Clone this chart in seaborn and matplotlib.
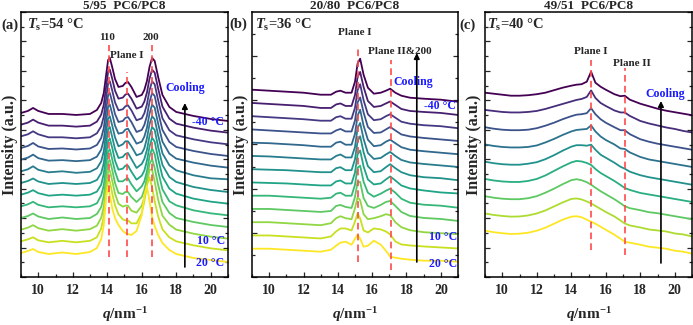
import numpy as np
import pandas as pd
import matplotlib
matplotlib.use("Agg")
import matplotlib.pyplot as plt
from matplotlib.ticker import MultipleLocator
import seaborn as sns

# ---- data ----
# curves are listed bottom (first, warmest) to top (last, coldest);
# values are heights above each curve's own start at q = 9
q_a = [9.0, 9.4, 9.7, 10.0, 10.6, 11.4, 12.2, 13.0,
       13.4, 13.65, 13.8, 13.95, 14.05, 14.15, 14.3, 14.45, 14.65, 14.9, 15.05, 15.2, 15.4,
       15.7, 16.0, 16.15, 16.3, 16.45, 16.6, 16.75, 16.95, 17.2, 17.6, 18.0, 19.0, 20.0, 21.0]
temps_a = [20, 15, 10, 5, 0, -5, -10, -15, -20, -25, -30, -35, -40]
int_a = [
    [0, 2, 4, 1, -1, 0.5, -1, 1,
     5, 14, 28, 58, 66, 58, 44, 35, 28, 22, 20, 19, 18, 22, 38, 58, 67, 52, 36, 27, 18, 10, 3, -1, -5, -7, -9],
    [0, 2, 4, 1, -1, 0.5, -1, 0.5,
     4, 13, 25, 50, 61, 60, 47, 36, 27, 22, 21, 21, 18, 18, 28, 40, 56, 64, 54, 40, 25, 12, 4, 0, -4, -7, -9],
    [0, 2, 4.5, 1.5, -1, 0.5, -1, 0.5,
     4, 12, 23, 46, 58, 59, 48, 36, 26, 23, 24, 24, 19, 17, 24, 32, 46, 60, 60, 48, 30, 14, 5, 0, -4, -7, -9],
    [0, 2, 4.5, 1.5, -1, 0.5, -1, 0,
     4, 11, 22, 44, 56, 58, 47, 35, 25, 24, 26, 26, 21, 16, 21, 28, 40, 54, 59, 50, 33, 16, 5, 0, -4, -7, -9],
    [0, 2, 4.5, 1.5, -1, 0, -1, 0,
     3, 11, 21, 43, 55, 57, 46, 35, 25, 25, 27, 28, 22, 15, 20, 25, 35, 50, 58, 52, 35, 17, 5, 1, -4, -7, -9],
    [0, 2, 4.5, 1.5, -1, 0, -1, 0,
     3, 10, 21, 42, 54, 56, 46, 34, 25, 26, 29, 29, 23, 15, 19, 24, 34, 48, 57, 53, 36, 18, 6, 1, -4, -7, -9],
    [0, 2, 4.5, 1.5, -1, 0, -1, 0,
     3, 10, 20, 41, 54, 56, 45, 34, 25, 26, 29, 30, 24, 15, 19, 24, 33, 47, 56, 53, 36, 18, 6, 1, -4, -7, -9],
    [0, 2, 5, 1.5, -1, 0, -1.5, -0.5,
     3, 10, 20, 41, 53, 55, 45, 34, 25, 27, 30, 30, 25, 16, 18, 23, 33, 47, 55, 52, 36, 18, 6, 1, -4, -7, -8],
    [0, 2, 5, 1.5, -1, -0.5, -1.5, -0.5,
     3, 10, 20, 40, 53, 55, 45, 34, 26, 27, 30, 31, 25, 16, 18, 23, 32, 46, 55, 52, 36, 18, 6, 1, -3, -6, -8],
    [0, 2, 5, 1.5, -1, -0.5, -1.5, -0.5,
     3, 10, 20, 40, 53, 55, 45, 34, 26, 27, 30, 31, 26, 16, 18, 23, 32, 46, 55, 52, 36, 18, 6, 1, -3, -6, -8],
    [0, 2, 5, 2, -1, -1, -2, -1,
     3, 10, 20, 40, 53, 55, 45, 34, 26, 27, 30, 31, 26, 16, 18, 23, 32, 46, 55, 52, 36, 18, 6, 1, -3, -6, -8],
    [0, 2, 5, 2, -1, -1, -2, -1,
     3, 10, 20, 40, 53, 55, 45, 34, 26, 27, 30, 31, 26, 16, 18, 23, 32, 46, 55, 52, 36, 18, 6, 1, -3, -6, -8],
    [0, 2, 5, 2, -1, -1, -2, -1,
     3, 10, 20, 40, 53, 55, 45, 34, 26, 27, 30, 31, 26, 16, 18, 23, 32, 46, 55, 52, 36, 18, 6, 1, -3, -6, -8],
]

q_b = [9.0, 10.0, 11.0, 12.0, 13.0, 13.6, 13.9, 14.15, 14.45, 14.8, 15.0, 15.15, 15.3, 15.5, 15.75,
       16.1, 16.5, 16.8, 17.05, 17.35, 17.7, 18.2, 19.0, 20.0, 21.0]
temps_b = [20, 15, 10, 5, 0, -5, -10, -15, -20, -25, -30, -35, -40]
int_b = [
    [0, 0, -1, -2, -3, -1, 3, 6, 7, 4, 10, 14, 10, 2, 3, 8, 4, -2, -8, -9, -10, -11, -12, -12, -13],
    [0, 0, -1, -2, -3, -1, 4, 7, 7, 5, 14, 22, 17, 5, 3, 7, 6, 4, 1, -6, -9, -10, -11, -12, -13],
    [0, 0, -1, -2, -3, -1, 4, 6, 4, 3, 14, 25, 22, 8, 3, 4, 6, 8, 7, 0, -5, -8, -10, -11, -12],
    [0, 0, -1, -2, -3, -2, 3, 4, 2, 1, 12, 27, 27, 11, 3, 1, 4, 7, 8, 3, -3, -7, -9, -10, -12],
    [0, 0, -1, -2, -3, -2, 2, 3, 0, 0, 11, 28, 30, 14, 3, -1, 2, 5, 7, 3, -3, -7, -9, -10, -12],
    [0, -0.5, -1, -2, -3, -3, 1, 2, -1, -1, 10, 28, 32, 16, 3, -2, -1, 3, 6, 2, -3, -6, -8, -10, -11],
    [0, -0.5, -1, -2, -3, -3, 1, 2, -1, -1, 10, 28, 33, 17, 3, -3, -2, 2, 5, 1, -3, -6, -8, -9, -11],
    [0, -0.5, -1.5, -2.5, -3.5, -3.5, 0, 1.5, -1.5, -1.5, 9, 28, 33, 17, 3, -3, -2, 1.5, 4, 0, -4, -6.5, -8, -9.5, -11],
    [0, -0.5, -1.5, -2.5, -4, -4, 0, 1, -2, -2, 9, 27, 33, 17, 3, -3.5, -2.5, 1, 3, -0.5, -4.5, -7, -8.5, -10, -11.5],
    [0, -1, -2, -3, -4, -4, -1, 0.5, -2, -2, 9, 27, 32, 17, 2.5, -3.5, -3, 0, 2.5, -1, -5, -7, -8.5, -10, -11.5],
    [0, -1, -2, -3, -4.5, -4.5, -1, 0, -2.5, -2.5, 8.5, 26, 32, 16, 2, -4, -3, 0, 2, -1.5, -5.5, -7.5, -9, -10, -12],
    [0, -1, -2, -3, -5, -5, -1.5, -0.5, -3, -3, 8, 26, 31, 16, 2, -4, -3, -0.5, 1.5, -2, -6, -8, -9, -10, -12],
    [0, -1, -2, -3, -5, -5, -2, -1, -3, -3, 8, 26, 31, 15, 2, -4, -3, -1, 1, -3, -6, -8, -9, -10, -12],
]

q_c = [9.0, 9.5, 10.0, 10.5, 11.0, 11.5, 12.0, 12.5, 13.0, 13.5, 14.0, 14.3, 14.6, 14.9, 15.15,
       15.4, 15.7, 16.0, 16.5, 16.85, 17.1, 17.4, 18.0, 18.5, 19.0, 19.5, 20.0, 20.5, 21.0]
names_c = ["c1", "c2", "c3", "c4", "c5", "c6", "c7", "c8", "c9"]
int_c = [
    [0, -1.5, -2.5, -3.3, -3, -2, 0, 3, 7, 11, 14, 14.5, 13.5, 11, 9, 7, 4, 1, -4, -8, -11, -12, -14, -16, -17, -18, -20, -21, -23],
    [0, -1.5, -2.5, -3.2, -3, -2, 0, 3, 7, 11, 14.5, 15, 14, 12, 10, 7.5, 4.5, 1.5, -3, -7, -10, -12, -14, -16, -17, -18, -20, -21, -23],
    [0, -1.5, -2.5, -3, -3, -2, 0, 3.5, 7.5, 12, 16, 17, 16, 14, 11.5, 8.5, 5, 2, -3, -7, -10, -12, -14, -16, -17, -18.5, -20, -21.5, -23],
    [0, -1.5, -2.5, -3, -3, -2, 0, 3.5, 8, 12.5, 16.5, 18, 17.5, 16, 14, 10, 6, 3, -2, -6, -9, -11, -14, -15.5, -17, -18.5, -20, -21.5, -23],
    [0, -1.5, -2.5, -3, -3, -2, -0.5, 2.5, 6.5, 11, 15, 16.5, 16.5, 16, 17, 12, 7, 4, -1, -5, -7, -10, -13.5, -15.5, -17, -18.5, -20, -21.5, -23],
    [0, -1.5, -2.5, -3, -3, -2.5, -1, 2, 5.5, 9.5, 13, 14.5, 15, 15.5, 19, 13, 8, 4.5, 0, -4, -4.5, -8, -12.5, -15, -16.5, -18, -19.5, -21, -22.5],
    [0, -1.5, -2.5, -3, -3, -2.5, -1, 1.5, 4.5, 8, 11, 12.5, 13, 14, 19, 13, 8, 4.5, 0, -3, -3, -7, -12, -14.5, -16.5, -18, -19.5, -21, -22.5],
    [0, -1, -2, -2.5, -2.5, -2, -1, 1, 3.5, 6, 8.5, 10, 11, 13, 19.5, 12, 7, 4, -0.5, -2.5, -2.5, -6, -11, -13.5, -15.5, -17.5, -19, -21, -22.5],
    [0, -1, -2, -3, -3, -2.5, -1.5, 0, 2.5, 5, 7, 8, 8.5, 11, 21, 10, 6, 3, -1.5, -3.5, -3, -7, -11, -13.5, -16, -18, -19.5, -21, -22.5],
]

peaks_a = [14.1, 15.15, 16.6]
peaks_b = [15.19, 17.08]
peaks_c = [15.15, 17.12]

# ---- style ----
sns.set_style("ticks")
plt.rcParams["font.family"] = ["Liberation Serif", "DejaVu Serif"]
plt.rcParams["font.weight"] = "bold"
plt.rcParams["axes.labelweight"] = "bold"
plt.rcParams["mathtext.fontset"] = "custom"
plt.rcParams["mathtext.rm"] = "Liberation Serif:bold"
plt.rcParams["mathtext.it"] = "Liberation Serif:italic:bold"
plt.rcParams["mathtext.bf"] = "Liberation Serif:bold"

BLUE = "#1a1aff"
RED = "#ff4a4a"


def stacked(q, rows, names, base, step):
    frames = []
    for i, (row, name) in enumerate(zip(rows, names)):
        frames.append(pd.DataFrame({"q": q, "I": np.array(row, float) + base + i * step,
                                    "curve": name}))
    return pd.concat(frames, ignore_index=True)


def draw_panel(ax, q, rows, names, base, step, ytick):
    n = len(rows)
    cmap = plt.get_cmap("viridis")
    pal = {name: cmap(1 - i / (n - 1)) for i, name in enumerate(names)}
    df = stacked(q, rows, names, base, step)
    sns.lineplot(data=df, x="q", y="I", hue="curve", hue_order=names[::-1], palette=pal,
                 estimator=None, sort=False, legend=False, linewidth=1.3, ax=ax)
    ax.set_xlim(9, 21)
    ax.set_ylim(0, 265)
    ax.xaxis.set_major_locator(MultipleLocator(2))
    ax.xaxis.set_minor_locator(MultipleLocator(1))
    ax.yaxis.set_major_locator(MultipleLocator(ytick))
    ax.yaxis.set_minor_locator(MultipleLocator(ytick / 2))
    ax.tick_params(which="both", direction="in", right=True, top=False, labelleft=False,
                   width=0.9, labelsize=10, pad=5)
    ax.tick_params(which="major", length=3.5)
    ax.tick_params(which="minor", length=2)
    for s in ax.spines.values():
        s.set_linewidth(1.1)
        s.set_color("black")
    ax.set_xlabel(r"$q$/nm$^{-1}$", fontsize=11, labelpad=6)
    ax.set_ylabel("Intensity (a.u.)", fontsize=11.5, labelpad=2)


def vlines(ax, qs, lows, highs):
    for qv, lo, hi in zip(qs, lows, highs):
        ax.plot([qv, qv], [lo, hi], color=RED, lw=1.2, dashes=(4, 2.5), zorder=5)


def arrow(ax, qv, lo, hi):
    ax.annotate("", xy=(qv, hi), xytext=(qv, lo),
                arrowprops=dict(arrowstyle="-|>", color="black", lw=1.2, mutation_scale=8,
                                shrinkA=0, shrinkB=0), zorder=6)


fig = plt.figure(figsize=(6.93, 3.25), dpi=100)
ax_a = fig.add_axes([21 / 693, 48 / 325, 207 / 693, 265 / 325])
ax_b = fig.add_axes([252 / 693, 48 / 325, 206 / 693, 265 / 325])
ax_c = fig.add_axes([485 / 693, 48 / 325, 207 / 693, 265 / 325])

# panel (a)
draw_panel(ax_a, q_a, int_a, [f"{t} °C" for t in temps_a], 24, 11.67, 29.44)
vlines(ax_a, peaks_a, [20, 20, 20], [232, 205, 232])
arrow(ax_a, 18.5, 10, 174)
ax_a.set_title("5/95  PC6/PC8", fontsize=9.5, fontweight="bold", pad=0.5)
ax_a.text(0.03, 0.95, r"$T_{\mathrm{s}}$=54 °C", transform=ax_a.transAxes, fontsize=10.5,
          ha="left", va="center")
ax_a.text(14.0, 240, "110", fontsize=8, ha="center", va="center")
ax_a.text(16.55, 240, "200", fontsize=8, ha="center", va="center")
ax_a.text(15.15, 221, "Plane I", fontsize=8, ha="center", va="center")
ax_a.text(18.5, 189, "Cooling", fontsize=8.5, color=BLUE, ha="center", va="center")
ax_a.text(19.85, 155, "-40 °C", fontsize=8.5, color=BLUE, ha="center", va="center")
ax_a.text(20.0, 36, "10 °C", fontsize=8.5, color=BLUE, ha="center", va="center")
ax_a.text(19.95, 14, "20 °C", fontsize=8.5, color=BLUE, ha="center", va="center")
fig.text(10 / 693, 1 - 25 / 325, "(a)", fontsize=10.5, ha="center", va="center")

# panel (b)
draw_panel(ax_b, q_b, int_b, [f"{t} °C" for t in temps_b], 28.3, 13.25, 44.17)
vlines(ax_b, peaks_b, [15, 7], [230, 217])
arrow(ax_b, 18.6, 15, 224)
ax_b.set_title("20/80  PC6/PC8", fontsize=9.5, fontweight="bold", pad=0.5)
ax_b.text(0.015, 0.95, r"$T_{\mathrm{s}}$=36 °C", transform=ax_b.transAxes, fontsize=10.5,
          ha="left", va="center")
ax_b.text(15.0, 244.5, "Plane I", fontsize=8, ha="center", va="center")
ax_b.text(17.62, 226, "Plane II&200", fontsize=8, ha="center", va="center")
ax_b.text(18.38, 195, "Cooling", fontsize=8.5, color=BLUE, ha="center", va="center")
ax_b.text(19.95, 171, "-40 °C", fontsize=8.5, color=BLUE, ha="center", va="center")
ax_b.text(20.12, 40, "10 °C", fontsize=8.5, color=BLUE, ha="center", va="center")
ax_b.text(20.12, 13, "20 °C", fontsize=8.5, color=BLUE, ha="center", va="center")
fig.text(238 / 693, 1 - 24 / 325, "(b)", fontsize=10.5, ha="center", va="center")

# panel (c)
draw_panel(ax_c, q_c, int_c, names_c, 46.3, 17.25, 29.44)
vlines(ax_c, peaks_c, [27, 22], [217, 209])
arrow(ax_c, 19.2, 14, 176)
ax_c.set_title("49/51  PC6/PC8", fontsize=9.5, fontweight="bold", pad=0.5)
ax_c.text(0.01, 0.95, r"$T_{\mathrm{s}}$=40 °C", transform=ax_c.transAxes, fontsize=10.5,
          ha="left", va="center")
ax_c.text(15.14, 226, "Plane I", fontsize=8, ha="center", va="center")
ax_c.text(17.52, 213, "Plane II", fontsize=8, ha="center", va="center")
ax_c.text(19.43, 183, "Cooling", fontsize=8.5, color=BLUE, ha="center", va="center")
fig.text(468 / 693, 1 - 25 / 325, "(c)", fontsize=10.5, ha="center", va="center")

fig.savefig("out.png", dpi=100)
